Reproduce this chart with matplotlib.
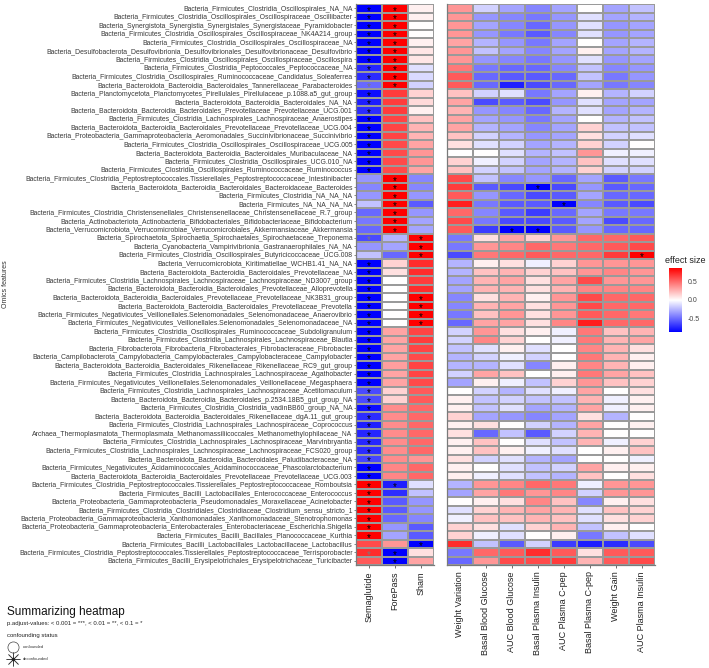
import numpy as np
import matplotlib
matplotlib.use("Agg")
from matplotlib import pyplot as plt
from matplotlib.colors import LinearSegmentedColormap
from matplotlib.lines import Line2D

plt.rcParams['font.family'] = ['Liberation Sans', 'DejaVu Sans']

features = [
    "Bacteria_Firmicutes_Clostridia_Oscillospirales_NA_NA",
    "Bacteria_Firmicutes_Clostridia_Oscillospirales_Oscillospiraceae_Oscillibacter",
    "Bacteria_Synergistota_Synergistia_Synergistales_Synergistaceae_Pyramidobacter",
    "Bacteria_Firmicutes_Clostridia_Oscillospirales_Oscillospiraceae_NK4A214_group",
    "Bacteria_Firmicutes_Clostridia_Oscillospirales_Oscillospiraceae_NA",
    "Bacteria_Desulfobacterota_Desulfovibrionia_Desulfovibrionales_Desulfovibrionaceae_Desulfovibrio",
    "Bacteria_Firmicutes_Clostridia_Oscillospirales_Oscillospiraceae_Oscillospira",
    "Bacteria_Firmicutes_Clostridia_Peptococcales_Peptococcaceae_NA",
    "Bacteria_Firmicutes_Clostridia_Oscillospirales_Ruminococcaceae_Candidatus_Soleaferrea",
    "Bacteria_Bacteroidota_Bacteroidia_Bacteroidales_Tannerellaceae_Parabacteroides",
    "Bacteria_Planctomycetota_Planctomycetes_Pirellulales_Pirellulaceae_p.1088.a5_gut_group",
    "Bacteria_Bacteroidota_Bacteroidia_Bacteroidales_NA_NA",
    "Bacteria_Bacteroidota_Bacteroidia_Bacteroidales_Prevotellaceae_Prevotellaceae_UCG.001",
    "Bacteria_Firmicutes_Clostridia_Lachnospirales_Lachnospiraceae_Anaerostipes",
    "Bacteria_Bacteroidota_Bacteroidia_Bacteroidales_Prevotellaceae_Prevotellaceae_UCG.004",
    "Bacteria_Proteobacteria_Gammaproteobacteria_Aeromonadales_Succinivibrionaceae_Succinivibrio",
    "Bacteria_Firmicutes_Clostridia_Oscillospirales_Oscillospiraceae_UCG.005",
    "Bacteria_Bacteroidota_Bacteroidia_Bacteroidales_Muribaculaceae_NA",
    "Bacteria_Firmicutes_Clostridia_Oscillospirales_UCG.010_NA",
    "Bacteria_Firmicutes_Clostridia_Oscillospirales_Ruminococcaceae_Ruminococcus",
    "Bacteria_Firmicutes_Clostridia_Peptostreptococcales.Tissierellales_Peptostreptococcaceae_Intestinibacter",
    "Bacteria_Bacteroidota_Bacteroidia_Bacteroidales_Bacteroidaceae_Bacteroides",
    "Bacteria_Firmicutes_Clostridia_NA_NA_NA",
    "Bacteria_Firmicutes_NA_NA_NA_NA",
    "Bacteria_Firmicutes_Clostridia_Christensenellales_Christensenellaceae_Christensenellaceae_R.7_group",
    "Bacteria_Actinobacteriota_Actinobacteria_Bifidobacteriales_Bifidobacteriaceae_Bifidobacterium",
    "Bacteria_Verrucomicrobiota_Verrucomicrobiae_Verrucomicrobiales_Akkermansiaceae_Akkermansia",
    "Bacteria_Spirochaetota_Spirochaetia_Spirochaetales_Spirochaetaceae_Treponema",
    "Bacteria_Cyanobacteria_Vampirivibrionia_Gastranaerophilales_NA_NA",
    "Bacteria_Firmicutes_Clostridia_Oscillospirales_Butyricicoccaceae_UCG.008",
    "Bacteria_Verrucomicrobiota_Kiritimatiellae_WCHB1.41_NA_NA",
    "Bacteria_Bacteroidota_Bacteroidia_Bacteroidales_Prevotellaceae_NA",
    "Bacteria_Firmicutes_Clostridia_Lachnospirales_Lachnospiraceae_Lachnospiraceae_ND3007_group",
    "Bacteria_Bacteroidota_Bacteroidia_Bacteroidales_Prevotellaceae_Alloprevotella",
    "Bacteria_Bacteroidota_Bacteroidia_Bacteroidales_Prevotellaceae_Prevotellaceae_NK3B31_group",
    "Bacteria_Bacteroidota_Bacteroidia_Bacteroidales_Prevotellaceae_Prevotella",
    "Bacteria_Firmicutes_Negativicutes_Veillonellales.Selenomonadales_Selenomonadaceae_Anaerovibrio",
    "Bacteria_Firmicutes_Negativicutes_Veillonellales.Selenomonadales_Selenomonadaceae_NA",
    "Bacteria_Firmicutes_Clostridia_Oscillospirales_Ruminococcaceae_Subdoligranulum",
    "Bacteria_Firmicutes_Clostridia_Lachnospirales_Lachnospiraceae_Blautia",
    "Bacteria_Fibrobacterota_Fibrobacteria_Fibrobacterales_Fibrobacteraceae_Fibrobacter",
    "Bacteria_Campilobacterota_Campylobacteria_Campylobacterales_Campylobacteraceae_Campylobacter",
    "Bacteria_Bacteroidota_Bacteroidia_Bacteroidales_Rikenellaceae_Rikenellaceae_RC9_gut_group",
    "Bacteria_Firmicutes_Clostridia_Lachnospirales_Lachnospiraceae_Agathobacter",
    "Bacteria_Firmicutes_Negativicutes_Veillonellales.Selenomonadales_Veillonellaceae_Megasphaera",
    "Bacteria_Firmicutes_Clostridia_Lachnospirales_Lachnospiraceae_Acetitomaculum",
    "Bacteria_Bacteroidota_Bacteroidia_Bacteroidales_p.2534.18B5_gut_group_NA",
    "Bacteria_Firmicutes_Clostridia_Clostridia_vadinBB60_group_NA_NA",
    "Bacteria_Bacteroidota_Bacteroidia_Bacteroidales_Rikenellaceae_dgA.11_gut_group",
    "Bacteria_Firmicutes_Clostridia_Lachnospirales_Lachnospiraceae_Coprococcus",
    "Archaea_Thermoplasmatota_Thermoplasmata_Methanomassiliicoccales_Methanomethylophilaceae_NA",
    "Bacteria_Firmicutes_Clostridia_Lachnospirales_Lachnospiraceae_Marvinbryantia",
    "Bacteria_Firmicutes_Clostridia_Lachnospirales_Lachnospiraceae_Lachnospiraceae_FCS020_group",
    "Bacteria_Bacteroidota_Bacteroidia_Bacteroidales_Paludibacteraceae_NA",
    "Bacteria_Firmicutes_Negativicutes_Acidaminococcales_Acidaminococcaceae_Phascolarctobacterium",
    "Bacteria_Bacteroidota_Bacteroidia_Bacteroidales_Prevotellaceae_Prevotellaceae_UCG.003",
    "Bacteria_Firmicutes_Clostridia_Peptostreptococcales.Tissierellales_Peptostreptococcaceae_Romboutsia",
    "Bacteria_Firmicutes_Bacilli_Lactobacillales_Enterococcaceae_Enterococcus",
    "Bacteria_Proteobacteria_Gammaproteobacteria_Pseudomonadales_Moraxellaceae_Acinetobacter",
    "Bacteria_Firmicutes_Clostridia_Clostridiales_Clostridiaceae_Clostridium_sensu_stricto_1",
    "Bacteria_Proteobacteria_Gammaproteobacteria_Xanthomonadales_Xanthomonadaceae_Stenotrophomonas",
    "Bacteria_Proteobacteria_Gammaproteobacteria_Enterobacterales_Enterobacteriaceae_Escherichia.Shigella",
    "Bacteria_Firmicutes_Bacilli_Bacillales_Planococcaceae_Kurthia",
    "Bacteria_Firmicutes_Bacilli_Lactobacillales_Lactobacillaceae_Lactobacillus",
    "Bacteria_Firmicutes_Clostridia_Peptostreptococcales.Tissierellales_Peptostreptococcaceae_Terrisporobacter",
    "Bacteria_Firmicutes_Bacilli_Erysipelotrichales_Erysipelotrichaceae_Turicibacter",
]

groups = ["Semaglutide", "ForePass", "Sham"]
clinical = ["Weight Variation", "Basal Blood Glucose", "AUC Blood Glucose",
            "Basal Plasma Insulin", "AUC Plasma C-pep", "Basal Plasma C-pep",
            "Weight Gain", "AUC Plasma Insulin"]

# effect sizes, one row per feature: Semaglutide, ForePass, Sham
group_effect = [
    [-0.90, 0.90, 0.05], [-0.90, 0.90, 0.05], [-0.90, 0.90, 0.00], [-0.90, 0.90, 0.00],
    [-0.90, 0.90, 0.05], [-0.85, 0.90, 0.08], [-0.85, 0.90, 0.08], [-0.72, 0.90, -0.10],
    [-0.70, 0.90, -0.12], [-0.50, 0.90, -0.15], [-0.80, 0.65, 0.15], [-0.75, 0.65, 0.12],
    [-0.70, 0.65, 0.05], [-0.90, 0.62, 0.20], [-0.90, 0.62, 0.25], [-0.90, 0.62, 0.25],
    [-0.85, 0.60, 0.30], [-0.85, 0.60, 0.35], [-0.85, 0.60, 0.35], [-0.85, 0.60, 0.30],
    [-0.35, 0.90, -0.40], [-0.40, 0.90, -0.40], [-0.35, 0.90, -0.35], [-0.20, 0.90, -0.55],
    [-0.50, 0.90, -0.35], [-0.45, 0.90, -0.30], [-0.50, 0.90, -0.30], [-0.60, -0.25, 0.90],
    [-0.35, -0.30, 0.90], [-0.20, -0.50, 0.90], [-0.90, 0.15, 0.70], [-0.90, 0.10, 0.70],
    [-0.90, 0.00, 0.65], [-0.90, 0.00, 0.70], [-0.90, 0.00, 0.90], [-0.90, 0.00, 0.90],
    [-0.90, 0.00, 0.90], [-0.90, 0.00, 0.90], [-0.90, 0.30, 0.62], [-0.90, 0.30, 0.65],
    [-0.90, 0.30, 0.62], [-0.90, 0.30, 0.60], [-0.90, 0.32, 0.62], [-0.90, 0.30, 0.62],
    [-0.90, 0.30, 0.60], [-0.60, 0.15, 0.55], [-0.60, 0.15, 0.55], [-0.80, 0.38, 0.50],
    [-0.70, 0.38, 0.50], [-0.75, 0.38, 0.50], [-0.72, 0.38, 0.50], [-0.72, 0.38, 0.50],
    [-0.70, 0.38, 0.50], [-0.62, 0.38, 0.35], [-0.90, 0.40, 0.50], [-0.90, 0.40, 0.50],
    [0.90, -0.75, -0.10], [0.90, -0.70, -0.20], [0.90, -0.55, -0.35], [0.90, -0.55, -0.35],
    [0.90, -0.50, -0.40], [0.90, -0.35, -0.55], [0.90, -0.30, -0.55], [0.60, 0.35, -0.90],
    [0.70, -0.90, 0.10], [0.55, -0.90, 0.30],
]

# effect sizes against the clinical variables, same row order
clinical_effect = [
    [0.35, -0.15, -0.30, -0.40, -0.30, 0.00, -0.30, -0.20],
    [0.35, -0.35, -0.40, -0.45, -0.35, -0.10, -0.30, -0.25],
    [0.35, -0.30, -0.40, -0.50, -0.35, -0.10, -0.35, -0.30],
    [0.35, -0.35, -0.45, -0.55, -0.40, -0.10, -0.35, -0.30],
    [0.30, -0.25, -0.35, -0.45, -0.30, 0.00, -0.30, -0.25],
    [0.35, -0.20, -0.30, -0.40, -0.30, 0.05, -0.30, -0.25],
    [0.35, -0.35, -0.40, -0.45, -0.35, -0.10, -0.35, -0.30],
    [0.45, -0.45, -0.50, -0.50, -0.40, -0.20, -0.40, -0.35],
    [0.55, -0.50, -0.55, -0.55, -0.50, -0.20, -0.45, -0.35],
    [0.55, -0.50, -0.75, -0.60, -0.50, -0.30, -0.45, -0.40],
    [0.20, -0.15, -0.10, -0.45, -0.30, 0.05, -0.25, -0.15],
    [0.30, -0.60, -0.55, -0.60, -0.35, -0.10, -0.30, -0.30],
    [0.25, -0.35, -0.40, -0.50, -0.25, -0.10, -0.30, -0.25],
    [0.30, -0.30, -0.35, -0.45, -0.30, 0.00, -0.25, -0.20],
    [0.30, -0.25, -0.30, -0.40, -0.30, 0.15, -0.20, -0.20],
    [0.20, -0.15, -0.25, -0.35, -0.30, 0.10, -0.15, -0.10],
    [0.10, -0.10, -0.15, -0.30, -0.25, 0.15, -0.15, 0.00],
    [0.00, 0.00, -0.10, -0.25, -0.20, 0.35, -0.05, -0.05],
    [0.15, -0.05, -0.15, -0.30, -0.25, 0.20, -0.10, -0.10],
    [0.20, -0.15, -0.20, -0.30, -0.25, 0.15, -0.15, -0.15],
    [0.60, -0.20, -0.40, -0.35, -0.50, -0.30, -0.55, -0.45],
    [0.65, -0.55, -0.60, -0.90, -0.60, -0.35, -0.55, -0.50],
    [0.55, -0.35, -0.50, -0.60, -0.55, -0.30, -0.50, -0.50],
    [0.75, -0.45, -0.55, -0.55, -0.90, -0.40, -0.55, -0.60],
    [0.50, -0.40, -0.55, -0.65, -0.50, -0.30, -0.45, -0.45],
    [0.60, -0.45, -0.60, -0.60, -0.55, -0.30, -0.60, -0.50],
    [0.55, -0.65, -0.90, -0.90, -0.55, -0.35, -0.50, -0.50],
    [-0.45, 0.10, 0.30, 0.15, 0.35, 0.50, 0.50, 0.55],
    [-0.45, 0.35, 0.40, 0.50, 0.45, 0.50, 0.55, 0.60],
    [-0.60, 0.45, 0.50, 0.55, 0.50, 0.50, 0.65, 0.90],
    [-0.25, 0.05, 0.10, -0.05, 0.15, 0.35, 0.35, 0.35],
    [-0.25, 0.20, 0.25, 0.15, 0.20, 0.35, 0.40, 0.35],
    [-0.30, 0.25, 0.30, 0.10, 0.30, 0.60, 0.35, 0.35],
    [-0.30, 0.25, 0.25, 0.10, 0.25, 0.40, 0.40, 0.40],
    [-0.40, 0.10, 0.25, 0.05, 0.35, 0.60, 0.50, 0.50],
    [-0.40, 0.25, 0.30, 0.10, 0.35, 0.60, 0.50, 0.50],
    [-0.45, 0.20, 0.35, 0.10, 0.35, 0.55, 0.50, 0.45],
    [-0.50, 0.30, 0.30, 0.10, 0.40, 0.75, 0.50, 0.50],
    [-0.15, 0.35, 0.10, 0.05, -0.05, 0.45, 0.20, 0.25],
    [-0.15, 0.40, 0.15, 0.00, -0.05, 0.45, 0.25, 0.30],
    [-0.20, -0.10, 0.05, -0.10, 0.00, 0.40, 0.25, 0.10],
    [-0.25, -0.15, -0.05, -0.15, 0.00, 0.45, 0.25, 0.05],
    [-0.25, -0.25, -0.10, -0.40, 0.05, 0.40, 0.25, 0.05],
    [-0.15, 0.30, 0.20, 0.00, 0.05, 0.45, 0.30, 0.20],
    [-0.30, 0.05, -0.05, -0.20, 0.15, 0.35, 0.20, 0.15],
    [0.00, -0.15, -0.25, -0.10, -0.05, 0.30, 0.00, 0.10],
    [0.05, -0.20, -0.15, -0.20, -0.20, 0.25, -0.05, 0.05],
    [0.05, -0.20, -0.10, -0.30, -0.25, 0.30, -0.05, 0.05],
    [0.15, -0.30, -0.35, -0.40, -0.30, 0.10, -0.25, 0.00],
    [0.05, 0.10, 0.00, -0.15, -0.25, 0.30, 0.00, 0.05],
    [0.10, -0.50, -0.20, -0.55, -0.15, 0.25, 0.00, 0.00],
    [0.05, 0.20, 0.00, -0.10, -0.20, 0.25, -0.05, 0.15],
    [0.05, 0.20, 0.05, -0.05, -0.10, 0.00, 0.05, 0.20],
    [0.10, -0.15, -0.10, -0.25, -0.30, 0.00, 0.00, -0.05],
    [0.05, 0.00, -0.10, -0.20, -0.15, 0.30, 0.05, 0.05],
    [0.05, -0.05, -0.10, -0.20, -0.25, 0.20, 0.00, 0.10],
    [-0.25, 0.35, 0.40, 0.50, 0.45, -0.05, 0.35, 0.35],
    [-0.30, 0.30, 0.45, 0.35, 0.40, -0.15, 0.35, 0.35],
    [0.00, 0.05, 0.10, 0.40, 0.20, -0.40, 0.05, 0.10],
    [-0.10, 0.15, 0.25, 0.30, 0.25, -0.10, 0.20, 0.15],
    [-0.05, 0.20, 0.20, 0.25, 0.20, -0.10, 0.10, 0.15],
    [0.15, 0.10, -0.10, 0.15, 0.25, -0.20, 0.05, 0.00],
    [0.15, -0.05, -0.10, 0.00, 0.05, -0.45, -0.20, -0.10],
    [0.70, -0.20, -0.55, -0.15, -0.65, -0.75, -0.70, -0.60],
    [-0.45, 0.50, 0.55, 0.70, 0.55, 0.10, 0.55, 0.55],
    [-0.50, 0.35, 0.60, 0.60, 0.65, 0.25, 0.55, 0.60],
]

# significance stars: (row, column), rows counted from 0
group_stars = ([(r, 0) for r in range(0, 20) if r != 9] + [(r, 0) for r in range(30, 63)]
               + [(r, 1) for r in range(0, 10)] + [(r, 1) for r in range(20, 27)]
               + [(56, 1), (64, 1), (65, 1)]
               + [(27, 2), (28, 2), (29, 2), (34, 2), (35, 2), (36, 2), (37, 2), (63, 2)])
group_stars_grey = [(9, 0), (27, 0), (64, 0)]
clinical_stars = [(21, 3), (23, 4), (26, 2), (26, 3), (29, 7)]

cmap = LinearSegmentedColormap.from_list("bwr_ph", ["#0000ff", "#ffffff", "#ff0000"])
vmin, vmax = -0.85, 0.85

W, H = 709, 668
fig = plt.figure(figsize=(W / 100, H / 100), dpi=100)


def box(x0, y0, x1, y1):
    return [x0 / W, 1 - y1 / H, (x1 - x0) / W, (y1 - y0) / H]


def heat(ax, data, cols, stars, grey=()):
    data = np.array(data)
    ax.pcolormesh(data, cmap=cmap, vmin=vmin, vmax=vmax,
                  edgecolors='#9a9a9a', linewidth=0.35)
    ax.set_xlim(0, data.shape[1])
    ax.set_ylim(data.shape[0], 0)
    for r, c in stars:
        ax.text(c + 0.5, r + 0.78, '*', ha='center', va='center', fontsize=7, color='black')
    for r, c in grey:
        ax.text(c + 0.5, r + 0.78, '*', ha='center', va='center', fontsize=7, color='#7a7a7a')
    ax.set_xticks(np.arange(data.shape[1]) + 0.5)
    ax.set_xticklabels(cols, rotation=90, fontsize=6.5, color='#222222')
    for s in ['top', 'right']:
        ax.spines[s].set_visible(False)
    for s in ['left', 'bottom']:
        ax.spines[s].set_color('#7a7a7a')
        ax.spines[s].set_linewidth(0.9)
    ax.tick_params(axis='x', length=2.5, width=0.6, color='#555555', pad=2)


ax1 = fig.add_axes(box(356, 4, 434, 565))
heat(ax1, group_effect, groups, group_stars, group_stars_grey)
ax1.set_yticks(np.arange(len(features)) + 0.5)
ax1.set_yticklabels(features, fontsize=4.95, color='#3a3a3a')
ax1.tick_params(axis='y', length=1.5, width=0.5, color='#555555', pad=1)
ax1.set_ylabel('Omics features', fontsize=5, color='#333333')
ax1.yaxis.set_label_coords((9 - 356) / 78, 0.5)

ax2 = fig.add_axes(box(447, 4, 655, 565))
heat(ax2, clinical_effect, clinical, clinical_stars)
ax2.set_yticks([])

# colour bar
cax = fig.add_axes(box(669, 268, 682, 332))
grad = np.linspace(vmin, vmax, 256).reshape(-1, 1)
cax.pcolormesh(np.array([0, 1]), np.linspace(vmin, vmax, 257), grad, cmap=cmap, vmin=vmin, vmax=vmax)
cax.set_ylim(vmin, vmax)
cax.set_xticks([])
cax.yaxis.tick_right()
cax.set_yticks([-0.5, 0.0, 0.5])
cax.set_yticklabels(['-0.5', '0.0', '0.5'], fontsize=5, color='#444444')
cax.tick_params(axis='y', length=0, pad=4)
for s in cax.spines.values():
    s.set_visible(False)
fig.text(665 / W, 1 - 260 / H, 'effect size', fontsize=6.5, color='#222222', va='center')

# titles and legend at bottom left
fig.text(7 / W, 1 - 612 / H, 'Summarizing heatmap', fontsize=8.5, color='#111111', va='center')
fig.text(7 / W, 1 - 624 / H, 'p.adjust-values: < 0.001 = ***, < 0.01 = **, < 0.1 = *',
         fontsize=4.3, color='#222222', va='center')
fig.text(7 / W, 1 - 635 / H, 'confounding status', fontsize=4.3, color='#222222', va='center')
fig.add_artist(Line2D([13 / W], [1 - 647 / H], marker='o', markersize=8, markerfacecolor='none',
                      markeredgecolor='#444444', markeredgewidth=0.5, transform=fig.transFigure))
fig.add_artist(Line2D([13 / W], [1 - 659 / H], marker=(8, 2, 0), markersize=10,
                      markeredgecolor='#444444', markeredgewidth=0.5, transform=fig.transFigure))
fig.add_artist(Line2D([13 / W], [1 - 659 / H], marker='o', markersize=1.5, color='#222222',
                      transform=fig.transFigure))
fig.text(23 / W, 1 - 647 / H, 'confounded', fontsize=3, color='#333333', va='center')
fig.text(23 / W, 1 - 659 / H, 'deconfounded', fontsize=3, color='#333333', va='center')

fig.savefig('out.png', dpi=100)
